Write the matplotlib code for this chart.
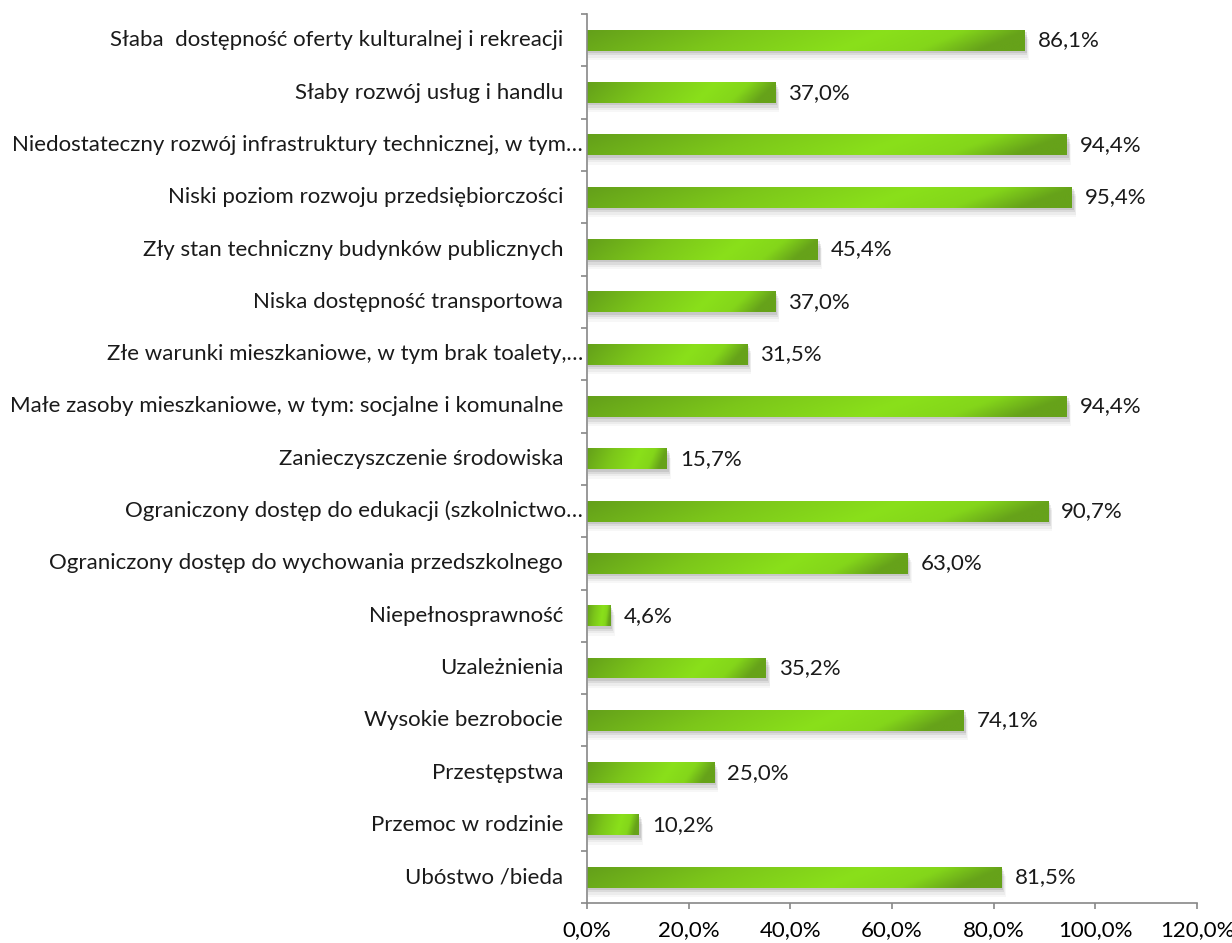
import numpy as np
import matplotlib
matplotlib.use("Agg")
import matplotlib.pyplot as plt
from matplotlib.colors import LinearSegmentedColormap
from matplotlib.patches import Rectangle

# categories listed top to bottom as in the chart
categories = [
    "Słaba  dostępność oferty kulturalnej i rekreacji",
    "Słaby rozwój usług i handlu",
    "Niedostateczny rozwój infrastruktury technicznej, w tym…",
    "Niski poziom rozwoju przedsiębiorczości",
    "Zły stan techniczny budynków publicznych",
    "Niska dostępność transportowa",
    "Złe warunki mieszkaniowe, w tym brak toalety,…",
    "Małe zasoby mieszkaniowe, w tym: socjalne i komunalne",
    "Zanieczyszczenie środowiska",
    "Ograniczony dostęp do edukacji (szkolnictwo…",
    "Ograniczony dostęp do wychowania przedszkolnego",
    "Niepełnosprawność",
    "Uzależnienia",
    "Wysokie bezrobocie",
    "Przestępstwa",
    "Przemoc w rodzinie",
    "Ubóstwo /bieda",
]
values = [86.1, 37.0, 94.4, 95.4, 45.4, 37.0, 31.5, 94.4, 15.7, 90.7,
          63.0, 4.6, 35.2, 74.1, 25.0, 10.2, 81.5]
xticks = [0, 20, 40, 60, 80, 100, 120]

plt.rcParams["font.family"] = ["Lato", "DejaVu Sans"]
plt.rc("font", size=16)

fig = plt.figure(figsize=(12.32, 9.43), dpi=100)
ax = fig.add_axes([0.4765, 0.042, 0.4951, 0.943])

n = len(categories)
ypos = np.arange(n)[::-1]
bar_h = 0.40

green = LinearSegmentedColormap.from_list(
    "grn", [(0.0, "#64a01a"), (0.35, "#7cc61a"), (0.68, "#8ae01a"),
            (0.86, "#84d61a"), (1.0, "#66a21a")])
grad = np.linspace(0, 1, 256).reshape(1, -1)
grad = grad + np.linspace(0, 0.10, 8).reshape(-1, 1)
grad = np.clip(grad, 0, 1)

for y, v in zip(ypos, values):
    # soft shadow below the bar
    for k, a in enumerate([0.14, 0.10, 0.07, 0.045]):
        ax.add_patch(Rectangle((0.2, y - bar_h / 2 - 0.045 * (k + 1)),
                               v + 0.2 + 0.15 * k, bar_h,
                               facecolor="#555555", alpha=a,
                               edgecolor="none", zorder=1))
    im = ax.imshow(grad, cmap=green, aspect="auto",
                   extent=(0, v, y - bar_h / 2, y + bar_h / 2),
                   zorder=2, interpolation="bicubic")
    r = Rectangle((0, y - bar_h / 2), v, bar_h, transform=ax.transData,
                  facecolor="none", edgecolor="none")
    ax.add_patch(r)
    im.set_clip_path(r)
    ax.text(v + 2.6, y, f"{v:.1f}%".replace(".", ","),
            va="center", ha="left", color="#1a1a1a")

# category labels; truncated ones (ending in "…") sit closer to the axis
for y, lab in zip(ypos, categories):
    off = -4 if lab.endswith("…") else -24
    ax.annotate(lab, xy=(0, y), xycoords=("axes fraction", "data"),
                xytext=(off, 0), textcoords="offset pixels",
                ha="right", va="center", color="#1a1a1a",
                annotation_clip=False)

ax.set_xlim(0, 120)
ax.set_ylim(-0.5, n - 0.5)
ax.set_xticks(xticks)
ax.set_xticklabels([f"{t:.1f}%".replace(".", ",") for t in xticks])
ax.set_yticks([])
ax.set_yticks(np.arange(n + 1) - 0.5, minor=True)
ax.tick_params(axis="y", which="minor", length=4, color="#888888", width=1.2)
ax.tick_params(axis="x", which="major", length=4, color="#888888",
               width=1.2, pad=8)

for s in ["top", "right"]:
    ax.spines[s].set_visible(False)
for s in ["left", "bottom"]:
    ax.spines[s].set_color("#888888")
    ax.spines[s].set_linewidth(1.2)

fig.savefig("out.png", dpi=100)
